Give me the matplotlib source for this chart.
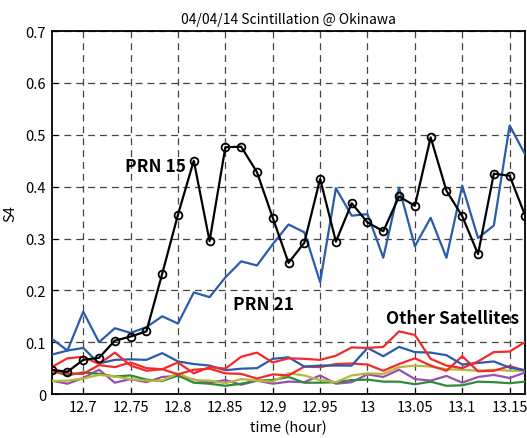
import numpy as np
import matplotlib
matplotlib.use("Agg")
import matplotlib.pyplot as plt

plt.rcParams['font.family'] = ['Noto Sans CJK JP', 'DejaVu Sans']

# time axis: one sample per minute from 12:40 to 13:10
t_start = 12 + 40 / 60
minutes = np.arange(31)
time_h = t_start + minutes / 60

prn15 = [0.047, 0.043, 0.066, 0.070, 0.103, 0.111, 0.121, 0.232, 0.346, 0.450,
         0.295, 0.476, 0.477, 0.428, 0.340, 0.253, 0.292, 0.415, 0.294, 0.368,
         0.331, 0.314, 0.381, 0.363, 0.495, 0.392, 0.343, 0.270, 0.425, 0.421,
         0.343]
prn21 = [0.107, 0.084, 0.159, 0.100, 0.127, 0.118, 0.129, 0.150, 0.136, 0.196,
         0.187, 0.225, 0.256, 0.248, 0.289, 0.327, 0.312, 0.216, 0.397, 0.344,
         0.347, 0.263, 0.398, 0.285, 0.340, 0.263, 0.402, 0.301, 0.325, 0.518,
         0.461]

other_blue = [0.076, 0.084, 0.089, 0.059, 0.066, 0.067, 0.066, 0.079, 0.063, 0.058,
              0.055, 0.046, 0.049, 0.050, 0.068, 0.071, 0.053, 0.055, 0.055, 0.055,
              0.089, 0.073, 0.091, 0.081, 0.080, 0.075, 0.057, 0.060, 0.063, 0.051,
              0.046]
other_red_a = [0.052, 0.069, 0.072, 0.058, 0.080, 0.055, 0.045, 0.048, 0.061, 0.040,
               0.052, 0.049, 0.072, 0.080, 0.061, 0.069, 0.068, 0.066, 0.074, 0.090,
               0.089, 0.091, 0.121, 0.114, 0.068, 0.055, 0.050, 0.063, 0.081, 0.082,
               0.101]
other_red_b = [0.044, 0.040, 0.039, 0.056, 0.052, 0.061, 0.050, 0.048, 0.038, 0.047,
               0.049, 0.040, 0.039, 0.030, 0.038, 0.036, 0.053, 0.052, 0.058, 0.059,
               0.057, 0.045, 0.058, 0.069, 0.055, 0.045, 0.073, 0.044, 0.045, 0.054,
               0.045]
other_purple = [0.026, 0.020, 0.031, 0.047, 0.022, 0.029, 0.023, 0.033, 0.035, 0.028,
                0.022, 0.027, 0.018, 0.026, 0.020, 0.024, 0.023, 0.036, 0.020, 0.023,
                0.038, 0.033, 0.047, 0.029, 0.026, 0.035, 0.022, 0.033, 0.037, 0.031,
                0.042]
other_green = [0.045, 0.036, 0.042, 0.039, 0.034, 0.036, 0.028, 0.025, 0.036, 0.022,
               0.020, 0.016, 0.020, 0.026, 0.027, 0.033, 0.022, 0.022, 0.023, 0.027,
               0.028, 0.024, 0.024, 0.019, 0.024, 0.016, 0.017, 0.024, 0.023, 0.021,
               0.024]
other_olive = [0.025, 0.026, 0.030, 0.037, 0.034, 0.029, 0.026, 0.026, 0.040, 0.027,
               0.026, 0.021, 0.029, 0.026, 0.024, 0.040, 0.036, 0.027, 0.023, 0.036,
               0.040, 0.039, 0.052, 0.055, 0.053, 0.048, 0.047, 0.045, 0.047, 0.045,
               0.045]

x_ticks = [12.7, 12.75, 12.8, 12.85, 12.9, 12.95, 13.0, 13.05, 13.1, 13.15]
x_tick_labels = ['12.7', '12.75', '12.8', '12.85', '12.9', '12.95', '13', '13.05', '13.1', '13.15']
y_ticks = [0, 0.1, 0.2, 0.3, 0.4, 0.5, 0.6, 0.7]
y_tick_labels = ['0', '0.1', '0.2', '0.3', '0.4', '0.5', '0.6', '0.7']

fig = plt.figure(figsize=(5.27, 4.39), dpi=100)
ax = fig.add_axes([0.098, 0.100, 0.899, 0.827])

lw = 1.6
others = [
    (other_purple, '#9a4fae'),
    (other_green, '#2f8a3a'),
    (other_olive, '#b5b83a'),
    (other_red_b, '#f42a2a'),
    (other_blue, '#2a5cae'),
    (other_red_a, '#f42a2a'),
]
for vals, col in others:
    ax.plot(time_h, vals, color=col, lw=lw, zorder=3)

ax.plot(time_h, prn21, color='#2a5cae', lw=lw, zorder=4)
ax.plot(time_h, prn15, color='black', lw=lw, marker='o', ms=5.6,
        mfc='none', mec='black', mew=1.3, zorder=5)

ax.set_xlim(t_start, t_start + 30 / 60)
ax.set_ylim(0, 0.7)
ax.set_xticks(x_ticks)
ax.set_xticklabels(x_tick_labels)
ax.set_yticks(y_ticks)
ax.set_yticklabels(y_tick_labels)
ax.tick_params(direction='in', length=4, labelsize=10.5, colors='black', pad=4)

ax.grid(True, color='#444444', linestyle=(0, (5.5, 4)), linewidth=0.9, zorder=1)
for s in ax.spines.values():
    s.set_linewidth(1.3)

ax.set_title('04/04/14 Scintillation @ Okinawa', fontsize=10, pad=6)
ax.set_xlabel('time (hour)', fontsize=10.5, labelpad=4)
ax.set_ylabel('S4', fontsize=10.5, labelpad=6)

ax.text(12.744, 0.440, 'PRN 15', fontsize=12.5, fontweight='bold',
        ha='left', va='center', zorder=6)
ax.text(12.858, 0.174, 'PRN 21', fontsize=12.5, fontweight='bold',
        ha='left', va='center', zorder=6)
ax.text(13.020, 0.146, 'Other Satellites', fontsize=12.4, fontweight='bold',
        ha='left', va='center', zorder=6)

fig.savefig('out.png', dpi=100)
